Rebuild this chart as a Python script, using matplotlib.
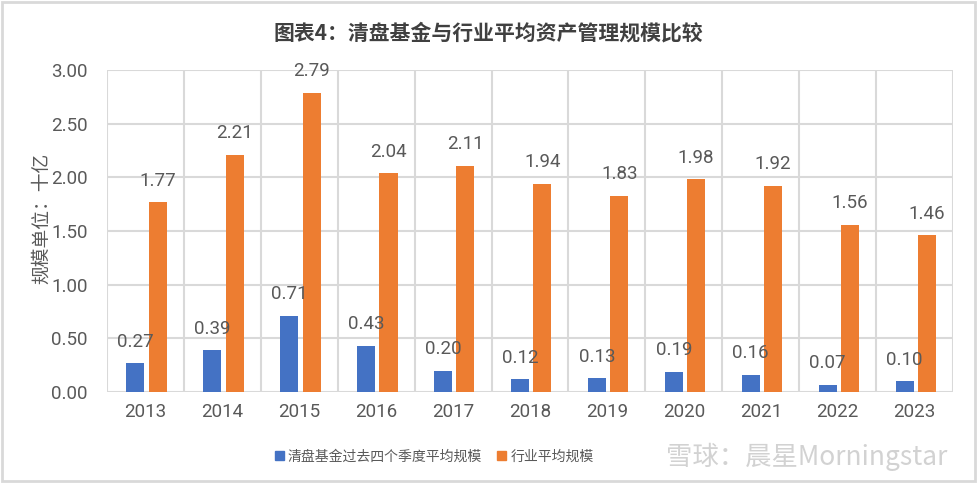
import matplotlib
matplotlib.use("Agg")
import matplotlib.pyplot as plt
import numpy as np
from matplotlib.patches import Rectangle, Patch

years = ["2013", "2014", "2015", "2016", "2017", "2018", "2019", "2020", "2021", "2022", "2023"]
liquidated = [0.27, 0.39, 0.71, 0.43, 0.20, 0.12, 0.13, 0.19, 0.16, 0.07, 0.10]
industry = [1.77, 2.21, 2.79, 2.04, 2.11, 1.94, 1.83, 1.98, 1.92, 1.56, 1.46]
yticks = [0.0, 0.5, 1.0, 1.5, 2.0, 2.5, 3.0]
title = "图表4：清盘基金与行业平均资产管理规模比较"
ylabel = "规模单位：十亿"
legend_labels = ["清盘基金过去四个季度平均规模", "行业平均规模"]
watermark = "雪球：晨星Morningstar"

BLUE = "#4472C4"
ORANGE = "#ED7D31"
GRID = "#D9D9D9"
TXT = "#595959"
NUM_FONT = ["Liberation Sans Narrow", "Roboto", "DejaVu Sans"]
CJK_FONT = ["Noto Sans CJK SC", "DejaVu Sans"]

fig = plt.figure(figsize=(9.77, 4.84), dpi=100)
ax = fig.add_axes([0.1095, 0.19, 0.866, 0.6654])

x = np.arange(len(years))
w = 0.235
off = 0.145
shift = 0.015
b1 = ax.bar(x - off + shift, liquidated, w, color=BLUE, zorder=3)
b2 = ax.bar(x + off + shift, industry, w, color=ORANGE, zorder=3)

for bars, vals in ((b1, liquidated), (b2, industry)):
    for r, v in zip(bars, vals):
        ax.annotate(f"{v:.2f}", (r.get_x() + r.get_width() / 2, v),
                    xytext=(0, 9), textcoords="offset points",
                    ha="center", va="bottom", fontsize=13.5, color=TXT,
                    family=NUM_FONT, zorder=4)

ax.set_xlim(-0.5, len(years) - 0.5)
ax.set_ylim(0, 3.0)
ax.set_yticks(yticks)
ax.set_yticklabels([f"{t:.2f}" for t in yticks], family=NUM_FONT, fontsize=13.5, color=TXT)
ax.set_xticks(x)
ax.set_xticklabels(years, family=NUM_FONT, fontsize=13.5, color=TXT)
ax.tick_params(axis="both", length=0)
ax.tick_params(axis="y", pad=14)
ax.tick_params(axis="x", pad=8)

for yv in yticks:
    ax.axhline(yv, color=GRID, lw=1.5, zorder=1)
for xb in np.arange(-0.5, len(years), 1.0):
    ax.axvline(xb, color=GRID, lw=1.5, zorder=1)
for s in ax.spines.values():
    s.set_visible(False)

ax.set_ylabel(ylabel, family=CJK_FONT, fontsize=13.5, color=TXT, va="center")
ax.yaxis.set_label_coords(-0.077, 0.54)

fig.text(0.5, 0.932, title, ha="center", va="center", family=CJK_FONT,
         fontsize=15, fontweight="bold", color="#404040")

handles = [Patch(color=BLUE), Patch(color=ORANGE)]
leg = fig.legend(handles, legend_labels, loc="center left", bbox_to_anchor=(0.281, 0.057),
                 ncol=2, frameon=False, prop={"family": CJK_FONT, "size": 10},
                 handlelength=0.65, handleheight=0.65, handletextpad=0.3,
                 columnspacing=1.1, borderaxespad=0, borderpad=0)
for t in leg.get_texts():
    t.set_color(TXT)

fig.text(0.970, 0.057, watermark, ha="right", va="center",
         family=CJK_FONT, fontsize=19, color="#D2D2D2")

fig.patches.append(Rectangle((0.002, 0.006), 0.996, 0.99, transform=fig.transFigure,
                             fill=False, edgecolor=GRID, lw=2))

fig.savefig("out.png", dpi=100)
